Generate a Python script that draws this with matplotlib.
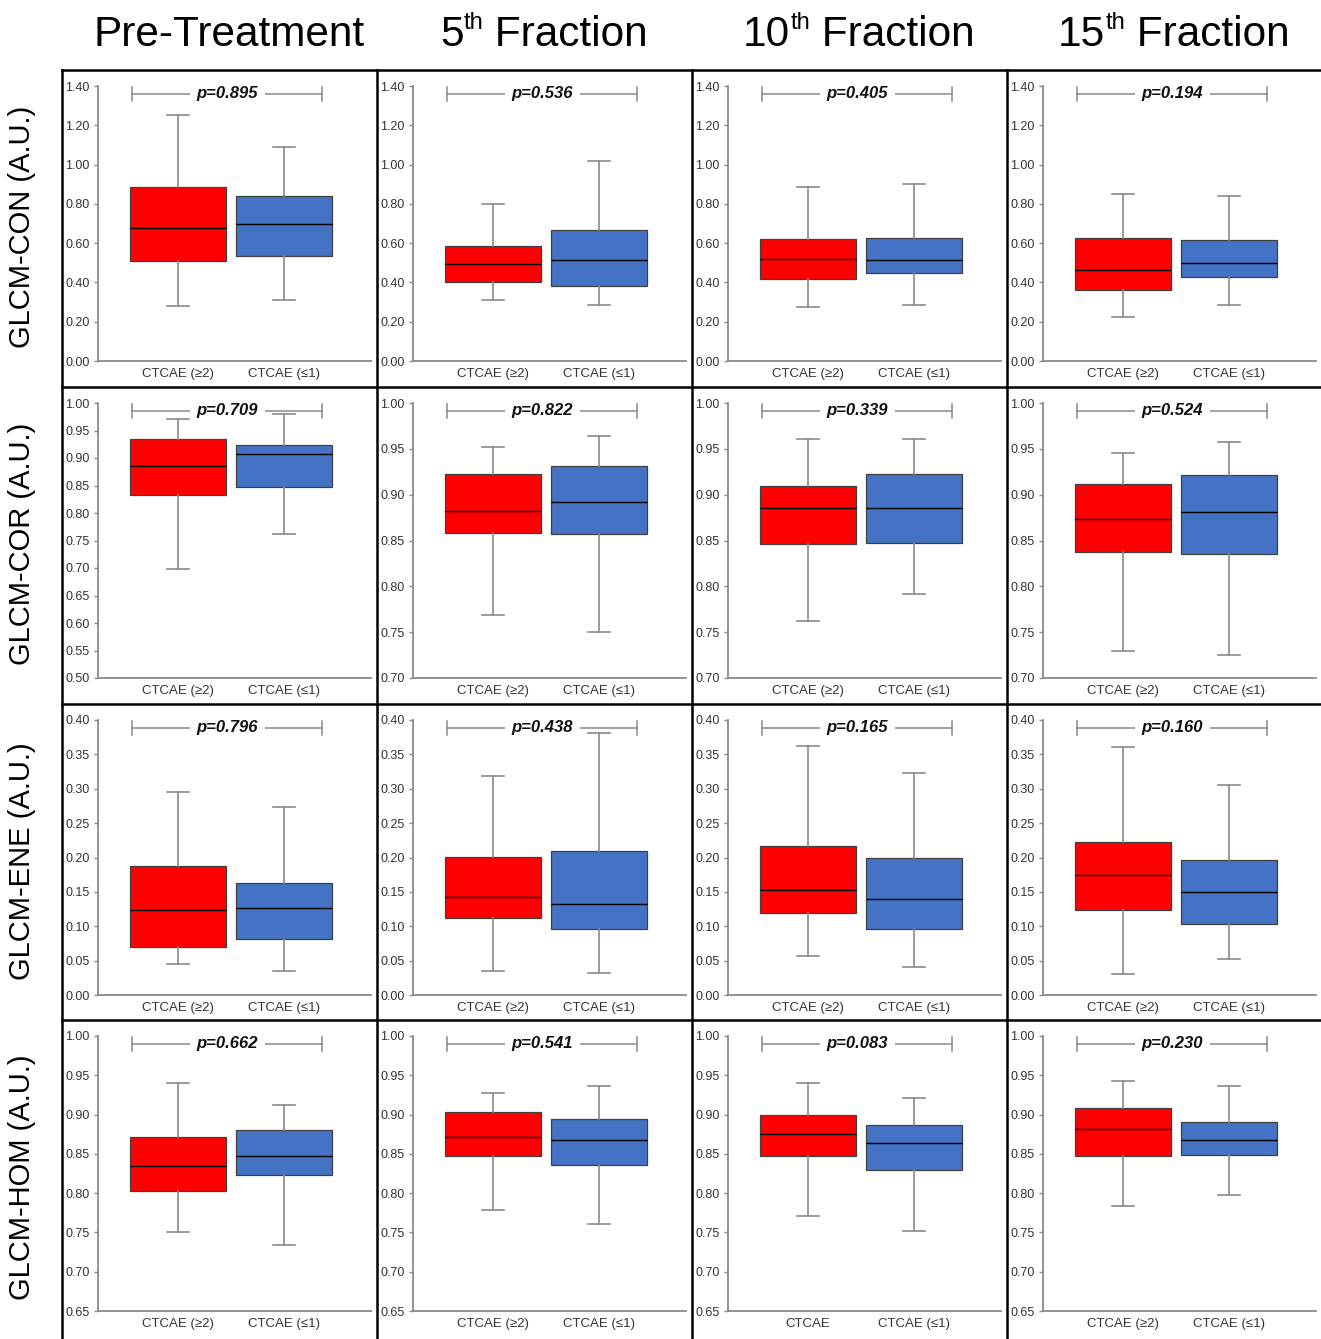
import matplotlib

matplotlib.use("Agg")
import matplotlib.pyplot as plt  # noqa: E402
from matplotlib.lines import Line2D  # noqa: E402

plt.rcParams["font.family"] = ["Liberation Sans", "DejaVu Sans"]

# --- data ---------------------------------------------------------------

# (number, superscript, rest) for each column title
timepoints = [("Pre-Treatment", "", ""), ("5", "th", " Fraction"),
              ("10", "th", " Fraction"), ("15", "th", " Fraction")]
features = ["GLCM-CON (A.U.)", "GLCM-COR (A.U.)",
            "GLCM-ENE (A.U.)", "GLCM-HOM (A.U.)"]
group_labels = ["CTCAE (≥2)", "CTCAE (≤1)"]

p_values = [
    ["0.895", "0.536", "0.405", "0.194"],
    ["0.709", "0.822", "0.339", "0.524"],
    ["0.796", "0.438", "0.165", "0.160"],
    ["0.662", "0.541", "0.083", "0.230"],
]

# y range per panel [row][col]
y_lo = [[0.00, 0.00, 0.00, 0.00],
        [0.50, 0.70, 0.70, 0.70],
        [0.00, 0.00, 0.00, 0.00],
        [0.65, 0.65, 0.65, 0.65]]
y_hi = [1.40, 1.00, 0.40, 1.00]
y_steps = [0.20, 0.05, 0.05, 0.05]

# CTCAE (>=2), red boxes: [row][col]
red_low = [[0.279, 0.312, 0.277, 0.222],
           [0.698, 0.769, 0.762, 0.730],
           [0.045, 0.035, 0.057, 0.031],
           [0.750, 0.779, 0.771, 0.784]]
red_q1 = [[0.511, 0.403, 0.415, 0.364],
          [0.833, 0.858, 0.846, 0.837],
          [0.070, 0.112, 0.119, 0.124],
          [0.803, 0.847, 0.847, 0.847]]
red_med = [[0.677, 0.493, 0.518, 0.465],
           [0.885, 0.882, 0.885, 0.874],
           [0.123, 0.142, 0.153, 0.175],
           [0.834, 0.871, 0.875, 0.882]]
red_q3 = [[0.888, 0.584, 0.620, 0.627],
          [0.934, 0.923, 0.909, 0.912],
          [0.188, 0.201, 0.217, 0.222],
          [0.872, 0.903, 0.899, 0.909]]
red_high = [[1.250, 0.800, 0.887, 0.849],
            [0.971, 0.952, 0.961, 0.946],
            [0.296, 0.319, 0.362, 0.361],
            [0.940, 0.928, 0.940, 0.943]]

# CTCAE (<=1), blue boxes
blue_low = [[0.310, 0.287, 0.287, 0.283],
            [0.762, 0.750, 0.792, 0.725],
            [0.035, 0.032, 0.041, 0.053],
            [0.734, 0.761, 0.752, 0.798]]
blue_q1 = [[0.537, 0.383, 0.446, 0.430],
           [0.848, 0.857, 0.847, 0.835],
           [0.082, 0.096, 0.096, 0.104],
           [0.823, 0.836, 0.829, 0.849]]
blue_med = [[0.697, 0.514, 0.513, 0.500],
            [0.907, 0.892, 0.886, 0.881],
            [0.126, 0.133, 0.140, 0.150],
            [0.847, 0.868, 0.864, 0.868]]
blue_q3 = [[0.842, 0.665, 0.626, 0.616],
           [0.923, 0.931, 0.923, 0.921],
           [0.163, 0.210, 0.199, 0.196],
           [0.881, 0.894, 0.887, 0.891]]
blue_high = [[1.090, 1.020, 0.903, 0.839],
             [0.980, 0.964, 0.961, 0.957],
             [0.273, 0.381, 0.323, 0.305],
             [0.912, 0.936, 0.921, 0.936]]

RED = "#ff0000"
BLUE = "#4472c4"
GREY = "#8a8a8a"

# --- layout (pixels) ----------------------------------------------------

W, H = 1321, 1339
cell_x = [62, 377, 692, 1007]
cell_y = [70, 387, 704, 1020]


def fx(px):
    return px / W


def fy(py):
    return 1 - py / H


fig = plt.figure(figsize=(W / 100, H / 100), dpi=100)


def stats(low, q1, med, q3, high):
    return {"whislo": low, "q1": q1, "med": med, "q3": q3,
            "whishi": high, "fliers": []}


for r in range(4):
    for c in range(4):
        left = cell_x[c] + 36
        top = cell_y[r] + 16
        bottom = cell_y[r] + 291
        ax = fig.add_axes([fx(left), fy(bottom), fx(273), (bottom - top) / H])

        data = [
            stats(red_low[r][c], red_q1[r][c], red_med[r][c],
                  red_q3[r][c], red_high[r][c]),
            stats(blue_low[r][c], blue_q1[r][c], blue_med[r][c],
                  blue_q3[r][c], blue_high[r][c]),
        ]
        bp = ax.bxp(data, positions=[1, 2], widths=0.9, patch_artist=True,
                    showfliers=False,
                    boxprops=dict(edgecolor="#404040", linewidth=0.9),
                    whiskerprops=dict(color=GREY, linewidth=1.2),
                    capprops=dict(color=GREY, linewidth=1.2),
                    medianprops=dict(color="black", linewidth=1.0),
                    capwidths=0.2)
        for patch, col in zip(bp["boxes"], [RED, BLUE]):
            patch.set_facecolor(col)

        lo, hi, step = y_lo[r][c], y_hi[r], y_steps[r]
        n = int(round((hi - lo) / step))
        ticks = [lo + i * step for i in range(n + 1)]
        ax.set_ylim(lo, hi)
        ax.set_yticks(ticks)
        ax.set_yticklabels([f"{t:.2f}" for t in ticks],
                           fontsize=9, color="#333333")
        ax.set_xlim(0.245, 2.82)
        ax.set_xticks([1, 2])
        xl = list(group_labels)
        if r == 3 and c == 2:
            xl[0] = "CTCAE"
        ax.set_xticklabels(xl, fontsize=9.5, color="#333333")
        ax.tick_params(axis="x", length=0, pad=5)
        ax.tick_params(axis="y", length=3, width=1, color=GREY, pad=3)
        for side in ("top", "right"):
            ax.spines[side].set_visible(False)
        for side in ("left", "bottom"):
            ax.spines[side].set_color(GREY)
            ax.spines[side].set_linewidth(1.3)

        # p-value bracket
        yb = lo + 0.972 * (hi - lo)
        tk = 0.025 * (hi - lo)
        ax.plot([0.57, 2.36], [yb, yb], color=GREY, lw=1.1, clip_on=False)
        for xe in (0.57, 2.36):
            ax.plot([xe, xe], [yb - tk, yb + tk], color=GREY, lw=1.1,
                    clip_on=False)
        ax.text(1.465, yb, f"p={p_values[r][c]}", ha="center", va="center",
                fontsize=12, fontweight="bold", style="italic",
                color="#111111",
                bbox=dict(facecolor="white", edgecolor="none", pad=5))

# column titles, built from pieces so the ordinal suffix sits small and raised
renderer = fig.canvas.get_renderer()
for c, (head, sup, tail) in enumerate(timepoints):
    centre = cell_x[c] + 36 + 131
    base = H - 46  # baseline, in pixels from the bottom
    pieces = []
    t1 = fig.text(0, base / H, head, fontsize=30.5, va="baseline")
    pieces.append((t1, 0))
    if sup:
        t2 = fig.text(0, (base + 17) / H, sup, fontsize=17, va="baseline")
        t3 = fig.text(0, base / H, tail, fontsize=30.5, va="baseline")
        pieces += [(t2, 1), (t3, 0)]
    widths = [t.get_window_extent(renderer).width for t, _ in pieces]
    x = centre - sum(widths) / 2
    for (t, _), w in zip(pieces, widths):
        t.set_x(x / W)
        x += w

# row labels
for r, label in enumerate(features):
    fig.text(fx(22), fy(cell_y[r] + 157), label, ha="center", va="center",
             rotation=90, fontsize=21)

# cell frame
for x in cell_x:
    fig.add_artist(Line2D([fx(x), fx(x)], [fy(cell_y[0]), 0],
                          color="black", lw=1.8))
for y in cell_y:
    fig.add_artist(Line2D([fx(cell_x[0]), 1], [fy(y), fy(y)],
                          color="black", lw=1.8))

fig.savefig("out.png", dpi=100)
plt.close(fig)
